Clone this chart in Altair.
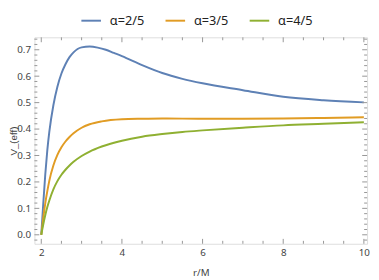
import altair as alt
import pandas as pd

# ---- data ----
labels = ["α=2/5", "α=3/5", "α=4/5"]
colors = ["#5E81B5", "#E19C24", "#8FB032"]

r_a = [2, 2.05, 2.1, 2.15, 2.2, 2.3, 2.4, 2.5, 2.6, 2.7, 2.8, 2.9, 3.0, 3.2, 3.4, 3.6, 3.8, 4.0, 4.5, 5, 5.5, 6, 7, 8, 9, 10]
v_a = [0, 0.12, 0.23, 0.32, 0.39, 0.49, 0.56, 0.61, 0.645, 0.672, 0.69, 0.703, 0.709, 0.712, 0.708, 0.700, 0.688, 0.676, 0.642, 0.612, 0.59, 0.573, 0.547, 0.522, 0.509, 0.501]

r_b = [2, 2.05, 2.1, 2.15, 2.2, 2.3, 2.4, 2.5, 2.6, 2.7, 2.8, 3.0, 3.2, 3.5, 4, 4.5, 5, 6, 7, 8, 9, 10]
v_b = [0, 0.065, 0.12, 0.165, 0.205, 0.262, 0.302, 0.331, 0.353, 0.370, 0.384, 0.405, 0.418, 0.429, 0.437, 0.439, 0.44, 0.439, 0.439, 0.44, 0.442, 0.445]

r_c = [2, 2.05, 2.1, 2.15, 2.2, 2.3, 2.4, 2.5, 2.6, 2.7, 2.8, 3.0, 3.2, 3.5, 4, 4.5, 5, 5.5, 6, 7, 8, 9, 10]
v_c = [0, 0.04, 0.075, 0.105, 0.13, 0.172, 0.203, 0.227, 0.246, 0.262, 0.276, 0.298, 0.315, 0.334, 0.356, 0.371, 0.381, 0.389, 0.395, 0.405, 0.414, 0.42, 0.426]

x_major = [2, 4, 6, 8, 10]
x_minor = [2.5, 3, 3.5, 4.5, 5, 5.5, 6.5, 7, 7.5, 8.5, 9, 9.5]
y_major = [0.0, 0.1, 0.2, 0.3, 0.4, 0.5, 0.6, 0.7]
y_minor = [-0.02, 0.02, 0.04, 0.06, 0.08, 0.12, 0.14, 0.16, 0.18, 0.22, 0.24, 0.26, 0.28,
           0.32, 0.34, 0.36, 0.38, 0.42, 0.44, 0.46, 0.48, 0.52, 0.54, 0.56, 0.58,
           0.62, 0.64, 0.66, 0.68, 0.72, 0.74]

x_domain = [1.83, 10.08]
y_domain = [-0.034, 0.747]

W, H = 340, 211
FRAME = "#969696"
TXT = "#444444"
FONT = "Noto Sans"

rows = []
for lab, rs, vs in zip(labels, [r_a, r_b, r_c], [v_a, v_b, v_c]):
    for r, v in zip(rs, vs):
        rows.append({"r": r, "V": v, "series": lab})
df = pd.DataFrame(rows)

xs = alt.Scale(domain=x_domain, nice=False, zero=False)
ys = alt.Scale(domain=y_domain, nice=False, zero=False)

lines = alt.Chart(df).mark_line(strokeWidth=2, interpolate="monotone", clip=True).encode(
    x=alt.X("r:Q", scale=xs,
            axis=alt.Axis(values=x_major, ticks=False, domain=False, grid=False,
                          labelFontSize=10, labelPadding=4, labelColor=TXT, labelFont=FONT,
                          labelOverlap=False,
                          title="r/M", titleFontSize=10, titleFontWeight="normal",
                          titleColor=TXT, titleFont=FONT, titlePadding=10)),
    y=alt.Y("V:Q", scale=ys,
            axis=alt.Axis(values=y_major, format=".1f", ticks=False, domain=False, grid=False,
                          labelFontSize=10, labelPadding=4, labelColor=TXT, labelFont=FONT,
                          labelOverlap=False,
                          title="V_(eff)", titleFontSize=10, titleFontWeight="normal",
                          titleColor=TXT, titleFont="Liberation Sans", titleX=-21,
                          titleBaseline="middle")),
    color=alt.Color("series:N", scale=alt.Scale(domain=labels, range=colors),
                    legend=alt.Legend(orient="none", direction="horizontal",
                                      legendX=47, legendY=-28, title=None,
                                      symbolType="stroke", symbolSize=400,
                                      symbolStrokeWidth=2, labelFontSize=13,
                                      labelFont=FONT, labelColor="#222222",
                                      labelOffset=8, columnPadding=17)),
)


def ticks(vals, axis, side, length):
    d = pd.DataFrame({"t": vals})
    base = alt.Chart(d).mark_rule(color=FRAME, strokeWidth=1)
    if axis == "x":
        y0 = H if side == "bottom" else 0
        y1 = H - length if side == "bottom" else length
        return base.encode(x=alt.X("t:Q", scale=xs, axis=None),
                           y=alt.value(y0), y2=alt.value(y1))
    x0 = 0 if side == "left" else W
    x1 = length if side == "left" else W - length
    return base.encode(y=alt.Y("t:Q", scale=ys, axis=None),
                       x=alt.value(x0), x2=alt.value(x1))


layers = [lines]
for side in ["bottom", "top"]:
    layers.append(ticks(x_major, "x", side, 5))
    layers.append(ticks(x_minor, "x", side, 3))
for side in ["left", "right"]:
    layers.append(ticks(y_major, "y", side, 5))
    layers.append(ticks(y_minor, "y", side, 3))

chart = (
    alt.layer(*layers)
    .resolve_scale(x="shared", y="shared")
    .resolve_axis(x="independent", y="independent")
    .properties(
        width=W, height=H,
        autosize=alt.AutoSizeParams(type="none"),
        padding={"left": 27, "top": 27, "right": 4, "bottom": 32},
    )
    .configure_view(stroke=FRAME, strokeWidth=1)
    .configure(background="white")
)

chart.save("out.html", embed_options={"renderer": "svg", "actions": False})
